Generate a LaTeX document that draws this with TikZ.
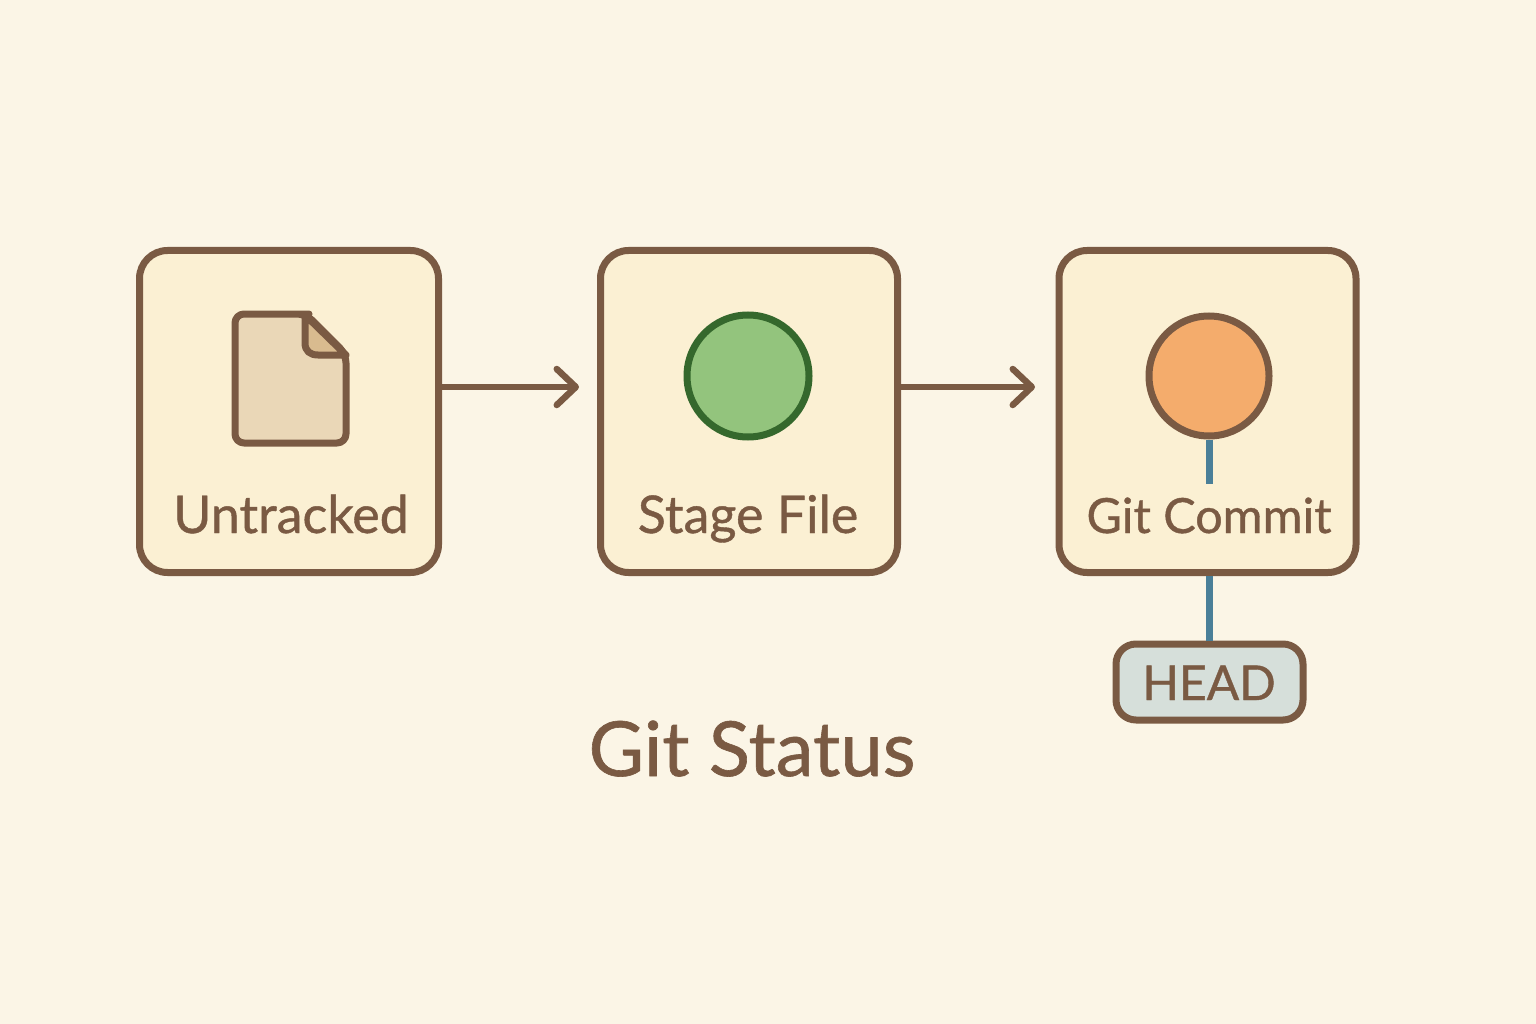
\documentclass[tikz,border=0pt]{standalone}
\usepackage{fontspec}
\setmainfont{Lato}[FakeBold=0.8]
\usetikzlibrary{arrows.meta}
\definecolor{bgc}{HTML}{FBF5E6}
\definecolor{boxc}{HTML}{FBF0D3}
\definecolor{brn}{HTML}{7A5A43}
\definecolor{paperc}{HTML}{EAD7B7}
\definecolor{foldc}{HTML}{D9BB8F}
\definecolor{grnf}{HTML}{93C47D}
\definecolor{grnd}{HTML}{35682D}
\definecolor{orf}{HTML}{F4AC6C}
\definecolor{teal}{HTML}{4A7F98}
\definecolor{headf}{HTML}{D6DFDA}
\tikzset{
 x=1pt,y=-1pt,
 card/.style={draw=brn,fill=boxc,line width=7pt,rounded corners=28pt,inner sep=0pt,outer sep=0pt,anchor=north west,minimum height=322pt},
 lbl/.style={text=brn,inner sep=0pt,anchor=base},
 conn/.style={draw=brn,line width=6pt,-{Straight Barb[length=19pt,width=36pt,line width=6.5pt,round]}},
 pin/.style={draw=teal,line width=7pt},
 dot/.style={circle,line width=7pt,inner sep=0pt,outer sep=0pt},
}
\begin{document}
\begin{tikzpicture}
\useasboundingbox (0,0) rectangle (1536,1024);
\fill[bgc] (0,0) rectangle (1536,1024);
\node[card,minimum width=299pt] (u) at (139.5,250.5) {};
\node[card,minimum width=297pt] (s) at (600.5,250.5) {};
\node[card,minimum width=297pt] (g) at (1059,250.5) {};
\node[lbl,font=\fontsize{52}{56}\selectfont] (ut) at (291,533) {Untracked};
\node[lbl,font=\fontsize{52}{56}\selectfont] (st) at (748,533) {Stage File};
\node[lbl,font=\fontsize{48.5}{52}\selectfont] (gt) at (1209,533) {Git Commit};
% file icon
\draw[brn,fill=paperc,line width=7pt,line join=round,rounded corners=9pt] (235,314) -- (300,314) -- (306,314) -- (346,354) -- (346,443) -- (235,443) -- cycle;
\draw[brn,fill=foldc,line width=7pt,line join=round] (305,315) -- (305,343) .. controls (305,351) and (310,355) .. (318,355) -- (346,355) -- cycle;
% circles
\node[dot,draw=grnd,fill=grnf,minimum size=122pt] (gc) at (748,376) {};
\node[dot,draw=brn,fill=orf,minimum size=120pt] (oc) at (1209,376) {};
\node[draw=brn,fill=headf,line width=7pt,rounded corners=20pt,outer sep=3.5pt,minimum width=187pt,minimum height=76pt,inner sep=0pt] (h) at (1209.5,682) {};
\node[lbl,font=\fontsize{48}{52}\selectfont] (ht) at (1209,700) {HEAD};
\coordinate (pe) at (1209.5,484);
\draw[pin] (oc.south -| pe) ++(0,3.5) -- (pe);
\draw[pin] (h.north |- g.south) ++(0,3.5) -- (h.north);
\coordinate (a1) at (579,387);
\coordinate (a2) at (1035,387);
\draw[conn] (u.east |- a1) ++(3,0) -- (a1);
\draw[conn] (s.east |- a2) ++(3,0) -- (a2);
\node[lbl,font=\fontsize{76}{80}\selectfont] (t) at (752,776) {Git Status};
\end{tikzpicture}
\end{document}
